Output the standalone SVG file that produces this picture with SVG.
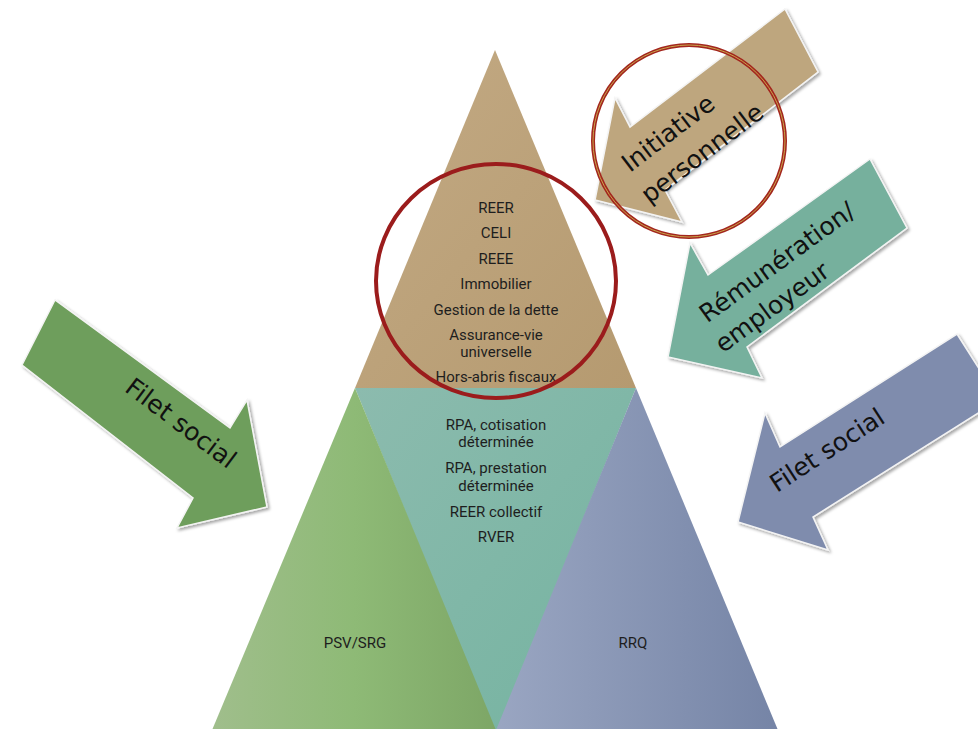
<svg xmlns="http://www.w3.org/2000/svg" width="978" height="729" viewBox="0 0 978 729">
<defs>
<linearGradient id="gTan" x1="0" y1="0" x2="1" y2="1"><stop offset="0" stop-color="#C3AA84"/><stop offset="1" stop-color="#B59A70"/></linearGradient>
<linearGradient id="gTeal" x1="0" y1="0" x2="1" y2="1"><stop offset="0" stop-color="#8CBBAE"/><stop offset="1" stop-color="#74B3A0"/></linearGradient>
<linearGradient id="gGreen" x1="0" y1="0" x2="1" y2="0"><stop offset="0" stop-color="#A0BE8C"/><stop offset="0.5" stop-color="#8EBA76"/><stop offset="1" stop-color="#7DA666"/></linearGradient>
<linearGradient id="gBlue" x1="0" y1="0" x2="1" y2="0"><stop offset="0" stop-color="#9AA6C2"/><stop offset="1" stop-color="#7584A6"/></linearGradient>
<filter id="sh" x="-10%" y="-10%" width="130%" height="130%"><feDropShadow dx="2" dy="2" stdDeviation="1.5" flood-color="#000" flood-opacity="0.35"/></filter>
</defs>
<style>
.tri{font-family:Roboto,"Liberation Sans",sans-serif;font-size:15px;fill:#1e1e1e;text-anchor:middle}
.arr{font-family:"DejaVu Sans",Verdana,sans-serif;font-size:25px;fill:#111;text-anchor:middle}
.arrow{stroke:#F4F4F4;stroke-width:1.5;filter:url(#sh)}
</style>
<rect width="978" height="729" fill="#FFFFFF"/>

<g id="pyramid">
<g id="tri-top"><polygon points="495,50 636,388 355,388" fill="url(#gTan)"/></g>
<g id="tri-mid"><polygon points="355,388 636,388 496,735" fill="url(#gTeal)"/></g>
<g id="tri-left"><polygon points="355,388 498,735 210,735" fill="url(#gGreen)"/></g>
<g id="tri-right"><polygon points="636,388 780,735 494,735" fill="url(#gBlue)"/></g>
</g>

<g id="top-text">
<text class="tri" x="496" y="213">REER</text>
<text class="tri" x="496" y="238">CELI</text>
<text class="tri" x="496" y="264">REEE</text>
<text class="tri" x="496" y="289">Immobilier</text>
<text class="tri" x="496" y="315">Gestion de la dette</text>
<text class="tri" x="496" y="340">Assurance-vie</text>
<text class="tri" x="496" y="357">universelle</text>
<text class="tri" x="496" y="382">Hors-abris fiscaux</text>
</g>

<g id="mid-text">
<text class="tri" x="496" y="430">RPA, cotisation</text>
<text class="tri" x="496" y="447">déterminée</text>
<text class="tri" x="496" y="473">RPA, prestation</text>
<text class="tri" x="496" y="491">déterminée</text>
<text class="tri" x="496" y="517">REER collectif</text>
<text class="tri" x="496" y="542">RVER</text>
</g>

<g id="bottom-text">
<text class="tri" x="355" y="648">PSV/SRG</text>
<text class="tri" x="633" y="648">RRQ</text>
</g>

<g id="circle-top"><ellipse cx="496" cy="281" rx="120" ry="117" fill="none" stroke="#9B1C1C" stroke-width="4"/></g>

<g id="arrow-initiative">
<polygon class="arrow" points="785,9 818,72 665,190 682,222 595,200 615,98 630,127" fill="#BEA67E"/>
<text class="arr" transform="rotate(-37.3 668 133)" x="668" y="133" dy=".35em">Initiative</text>
<text class="arr" transform="rotate(-37.3 702 153)" x="702" y="153" dy=".35em">personnelle</text>
</g>
<g id="circle-initiative">
<circle cx="689" cy="141" r="96" fill="none" stroke="#A3261E" stroke-width="4"/>
<circle cx="689" cy="141" r="96" fill="none" stroke="#C9A54A" stroke-width="1"/>
</g>

<g id="arrow-remuneration">
<polygon class="arrow" points="870,159 907,228 747,347 762,378 668,357 690,243 708,275" fill="#76B09D"/>
<text class="arr" transform="rotate(-36 777 262)" x="777" y="262" dy=".35em">Rémunération/</text>
<text class="arr" transform="rotate(-36 772 307)" x="772" y="307" dy=".35em">employeur</text>
</g>

<g id="arrow-filet-right">
<polygon class="arrow" points="957,334 999,400 813,517 828,550 738,522 765,413 780,447" fill="#7F8CAD"/>
<text class="arr" transform="rotate(-33 827 450)" x="827" y="450" dy=".35em">Filet social</text>
</g>

<g id="arrow-filet-left">
<polygon class="arrow" points="55,300 22,365 193,498 177,528 267,507 247,400 230,428" fill="#6E9E5B"/>
<text class="arr" transform="rotate(37 181 423)" x="181" y="423" dy=".35em">Filet social</text>
</g>

<g id="connectors"/>
</svg>
